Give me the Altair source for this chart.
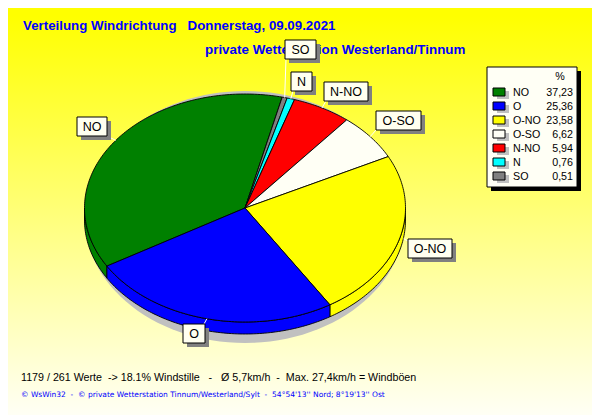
import math
import altair as alt

# --- chart values -----------------------------------------------------------
directions = ["NO", "O", "O-NO", "O-SO", "N-NO", "N", "SO"]
percents = [37.23, 25.36, 23.58, 6.62, 5.94, 0.76, 0.51]
percent_labels = ["37,23", "25,36", "23,58", "6,62", "5,94", "0,76", "0,51"]
colors = ["#008000", "#0000FF", "#FFFF00", "#FFFFF5", "#FF0000", "#00FFFF", "#808080"]
# clockwise drawing order round the pie, beginning at the NO slice
pie_order = ["NO", "SO", "N", "N-NO", "O-SO", "O-NO", "O"]

title1 = "Verteilung Windrichtung\u00a0\u00a0\u00a0Donnerstag, 09.09.2021"
title2 = "private Wetterstation Westerland/Tinnum"
stats = "1179 / 261 Werte\u00a0 -> 18.1% Windstille\u00a0\u00a0 -\u00a0\u00a0 \u00d8 5,7km/h\u00a0 -\u00a0 Max. 27,4km/h = Windb\u00f6en"
footer = "\u00a9 WsWin32\u00a0 -\u00a0 \u00a9 private Wetterstation Tinnum/Westerland/Sylt\u00a0 -\u00a0 54\u00b054'13'' Nord; 8\u00b019'13'' Ost"

# --- layout (reference pixels; the page margin is taken off below) ----------
M = 8
W, H = 584, 407
CX, CY, RX, RY, DEPTH = 245, 208, 160.5, 114, 12
START = 13.4 - 134.03  # angle of the NO slice's first edge, clockwise from top
label_boxes = {
    "NO": (77, 117, 107, 136),
    "O": (183, 324, 205, 343),
    "O-NO": (408, 239, 452, 258),
    "O-SO": (376, 111, 421, 130),
    "N-NO": (324, 82, 368, 101),
    "N": (291, 72, 312, 91),
    "SO": (285, 40, 316, 59),
}
leader_ends = {"NO": (107, 136), "O": (204, 324), "O-NO": (408, 241), "O-SO": (376, 130),
               "N-NO": (326, 101), "N": (293, 91), "SO": (286, 59)}
leader_start_shift = {"O-NO": 4}


def pt(t, dy=0.0):
    a = math.radians(t)
    return [CX + RX * math.sin(a) - M, CY - RY * math.cos(a) + dy - M]


def arc(t0, t1, dy=0.0):
    n = max(2, int(abs(t1 - t0)) + 2)
    return [pt(t0 + (t1 - t0) * i / (n - 1), dy) for i in range(n)]


def feature(ring, color):
    ring = ring + [ring[0]]
    return {"type": "Feature", "properties": {"c": color},
            "geometry": {"type": "Polygon", "coordinates": [ring]}}


value_of = dict(zip(directions, percents))
color_of = dict(zip(directions, colors))
tops, sides, mids = [], [], {}
t = START
for d in pie_order:
    sweep = value_of[d] * 3.6
    t0, t1 = t, t + sweep
    mids[d] = (t0 + t1) / 2
    tops.append(feature([[CX - M, CY - M]] + arc(t0, t1), color_of[d]))
    for k in (-360, 0, 360):
        a, b = max(t0 + k, 90), min(t1 + k, 270)
        if a < b:
            sides.append(feature(arc(a, b) + arc(b, a, DEPTH), color_of[d]))
    t = t1

shadow_ring = [[CX - M + RX * math.sin(math.radians(i)),
                217 - M - 126 * math.cos(math.radians(i))] for i in range(0, 360, 3)]
shadow = [feature(shadow_ring, "#C0C0C0")]

X = lambda f: alt.X(f, type="quantitative", scale=None, axis=None)
Y = lambda f: alt.Y(f, type="quantitative", scale=None, axis=None)


def shapes(feats, stroke):
    mark = alt.Chart(alt.Data(values=feats)).mark_geoshape(
        stroke=stroke, strokeWidth=0.9 if stroke else 0)
    return mark.encode(color=alt.Color("properties.c:N", scale=None, legend=None)).project(
        type="identity", scale=1, translate=[0, 0])


def rects(rows, **kw):
    return alt.Chart(alt.Data(values=rows)).mark_rect(**kw).encode(
        x=X("x"), x2=alt.X2("x2"), y=Y("y"), y2=alt.Y2("y2"))


def box(x0, y0, x1, y1, dx=0, dy=0):
    return {"x": x0 - M + dx, "x2": x1 - M + dx, "y": y0 - M + dy, "y2": y1 - M + dy}


def texts(rows, **kw):
    return alt.Chart(alt.Data(values=rows)).mark_text(baseline="alphabetic", **kw).encode(
        x=X("x"), y=Y("y"), text=alt.Text("t:N"))


background = alt.Chart(alt.Data(values=[{"a": 1}])).mark_rect(
    color=alt.LinearGradient(gradient="linear", x1=0, x2=0, y1=0, y2=1,
                             stops=[alt.GradientStop(color="#FFFF00", offset=0.02),
                                    alt.GradientStop(color="#FFFFF5", offset=1)])
).encode(x=alt.value(0), x2=alt.value(W), y=alt.value(0), y2=alt.value(H))

# labels
boxes = [box(*label_boxes[d]) for d in directions]
shadows = [box(*label_boxes[d], dx=4, dy=4) for d in directions]
labels = [{"x": (label_boxes[d][0] + label_boxes[d][2]) / 2 - M,
           "y": label_boxes[d][3] - 5 - M, "t": d} for d in directions]
leaders = []
for d in directions:
    s = pt(mids[d])
    e = leader_ends[d]
    leaders.append({"x": s[0] + leader_start_shift.get(d, 0), "y": s[1],
                    "x2": e[0] - M, "y2": e[1] - M})
leader_layer = alt.Chart(alt.Data(values=leaders)).mark_rule(color="white", strokeWidth=1).encode(
    x=X("x"), x2=alt.X2("x2"), y=Y("y"), y2=alt.Y2("y2"))

# legend
row_y = [92 + 14 * i for i in range(len(directions))]
swatch = [dict(box(493, y - 4, 505, y + 4), c=c) for y, c in zip(row_y, colors)]
swatch_shadow = [box(493, y - 4, 505, y + 4, dx=4, dy=3) for y in row_y]
swatch_layer = alt.Chart(alt.Data(values=swatch)).mark_rect(stroke="black", strokeWidth=1).encode(
    x=X("x"), x2=alt.X2("x2"), y=Y("y"), y2=alt.Y2("y2"),
    color=alt.Color("c:N", scale=None, legend=None))
leg_names = [{"x": 513 - M, "y": y + 4 - M, "t": d} for y, d in zip(row_y, directions)]
leg_vals = [{"x": 573 - M, "y": y + 4 - M, "t": v} for y, v in zip(row_y, percent_labels)]

FONT = "Liberation Sans"
chart = alt.layer(
    background,
    shapes(shadow, None),
    shapes(sides, "black"),
    shapes(tops, "black"),
    texts([{"x": 23 - M, "y": 30 - M, "t": title1}], font=FONT, fontSize=13.3, fontWeight="bold",
          color="#0000FF", align="left"),
    texts([{"x": 205 - M, "y": 54 - M, "t": title2}], font=FONT, fontSize=13.4, fontWeight="bold",
          color="#0000FF", align="left"),
    leader_layer,
    rects(shadows, color="#808080"),
    rects(boxes, color="#FFFFF0", stroke="black", strokeWidth=1),
    texts(labels, font=FONT, fontSize=12.5, color="black", align="center"),
    rects([box(487, 67, 577, 187, dx=4, dy=4)], color="black"),
    rects([box(487, 67, 577, 187)], color="#FFFFF5", stroke="black", strokeWidth=1),
    rects(swatch_shadow, color="#C0C0C0"),
    swatch_layer,
    texts([{"x": 560 - M, "y": 80 - M, "t": "%"}], font=FONT, fontSize=10.7, color="black", align="center"),
    texts(leg_names, font=FONT, fontSize=10.7, color="black", align="left"),
    texts(leg_vals, font=FONT, fontSize=10.7, color="black", align="right"),
    texts([{"x": 21 - M, "y": 381 - M, "t": stats}], font=FONT, fontSize=10.7, color="black", align="left"),
    texts([{"x": 21 - M, "y": 397 - M, "t": footer}], font="DejaVu Sans", fontSize=7.5, color="#0000FF", align="left"),
).properties(
    width=W, height=H, padding=0, autosize=alt.AutoSizeParams(type="none"),
).configure_view(stroke=None)

chart.save("out.html", embed_options={"renderer": "svg", "actions": False})
